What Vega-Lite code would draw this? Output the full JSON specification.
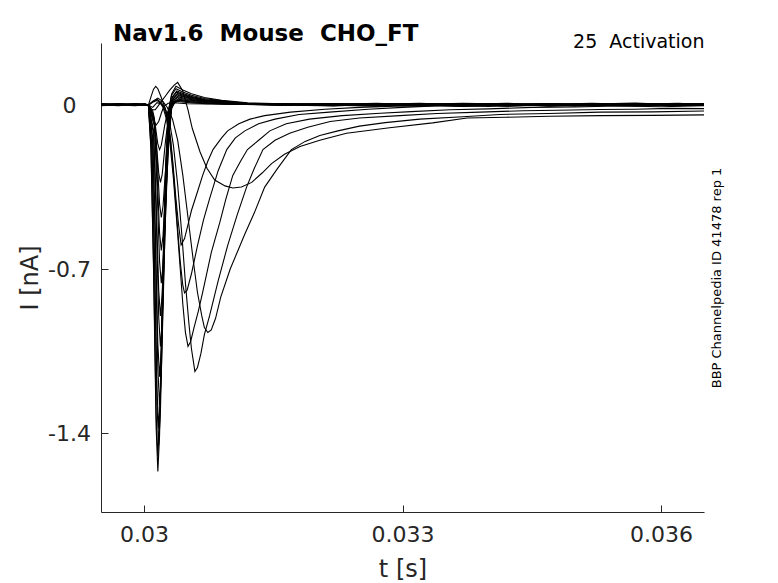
{
  "$schema": "https://vega.github.io/schema/vega-lite/v6.json",
  "width": 603,
  "height": 469,
  "autosize": "none",
  "padding": {"left": 101, "top": 43, "right": 74, "bottom": 71},
  "title": {
    "text": "Nav1.6\u00a0 Mouse\u00a0 CHO_FT",
    "anchor": "start",
    "frame": "group",
    "font": "DejaVu Sans",
    "fontSize": 23,
    "fontWeight": "bold",
    "color": "#000",
    "baseline": "alphabetic",
    "offset": 0,
    "dx": 12,
    "dy": 32
  },
  "data": {
    "values": [
      {"s":"f1","t":0.0295,"i":0.003},{"s":"f1","t":0.0297,"i":-0.002},{"s":"f1","t":0.0299,"i":0.004},{"s":"f1","t":0.03001,"i":0.001},{"s":"f1","t":0.03005,"i":0},{"s":"f1","t":0.03008,"i":-0.188},{"s":"f1","t":0.03011,"i":-0.704},{"s":"f1","t":0.03014,"i":-1.376},{"s":"f1","t":0.03016,"i":-1.564},{"s":"f1","t":0.03018,"i":-1.408},{"s":"f1","t":0.0302,"i":-1.064},{"s":"f1","t":0.03022,"i":-0.704},{"s":"f1","t":0.03025,"i":-0.282},{"s":"f1","t":0.03028,"i":-0.031},{"s":"f1","t":0.03032,"i":0.048},{"s":"f1","t":0.03037,"i":0.08},{"s":"f1","t":0.03045,"i":0.064},{"s":"f1","t":0.03055,"i":0.048},{"s":"f1","t":0.0307,"i":0.032},{"s":"f1","t":0.0309,"i":0.02},{"s":"f1","t":0.0312,"i":0.01},{"s":"f1","t":0.0316,"i":0.005},{"s":"f1","t":0.0322,"i":0.002},{"s":"f1","t":0.0327,"i":-0.004},{"s":"f1","t":0.0332,"i":0.006},{"s":"f1","t":0.0337,"i":-0.002},{"s":"f1","t":0.0342,"i":0.004},{"s":"f1","t":0.0347,"i":-0.005},{"s":"f1","t":0.0352,"i":0.003},{"s":"f1","t":0.0357,"i":0.007},{"s":"f1","t":0.0362,"i":-0.001},{"s":"f1","t":0.0365,"i":0.003},
      {"s":"f2","t":0.0295,"i":-0.001},{"s":"f2","t":0.0297,"i":0.004},{"s":"f2","t":0.0299,"i":0},{"s":"f2","t":0.03001,"i":0.003},{"s":"f2","t":0.03005,"i":0},{"s":"f2","t":0.03008,"i":-0.18},{"s":"f2","t":0.03011,"i":-0.675},{"s":"f2","t":0.03014,"i":-1.32},{"s":"f2","t":0.03016,"i":-1.5},{"s":"f2","t":0.03018,"i":-1.35},{"s":"f2","t":0.0302,"i":-1.02},{"s":"f2","t":0.03022,"i":-0.675},{"s":"f2","t":0.03025,"i":-0.27},{"s":"f2","t":0.03028,"i":-0.03},{"s":"f2","t":0.03032,"i":0.042},{"s":"f2","t":0.03037,"i":0.07},{"s":"f2","t":0.03045,"i":0.056},{"s":"f2","t":0.03055,"i":0.042},{"s":"f2","t":0.0307,"i":0.028},{"s":"f2","t":0.0309,"i":0.018},{"s":"f2","t":0.0312,"i":0.008},{"s":"f2","t":0.0316,"i":0.003},{"s":"f2","t":0.0322,"i":-0.003},{"s":"f2","t":0.0327,"i":0.005},{"s":"f2","t":0.0332,"i":-0.001},{"s":"f2","t":0.0337,"i":0.007},{"s":"f2","t":0.0342,"i":-0.004},{"s":"f2","t":0.0347,"i":0.002},{"s":"f2","t":0.0352,"i":0.006},{"s":"f2","t":0.0357,"i":-0.003},{"s":"f2","t":0.0362,"i":0.004},{"s":"f2","t":0.0365,"i":0.001},
      {"s":"f3","t":0.0295,"i":0.004},{"s":"f3","t":0.0297,"i":0.001},{"s":"f3","t":0.0299,"i":-0.003},{"s":"f3","t":0.03001,"i":0.002},{"s":"f3","t":0.03005,"i":0},{"s":"f3","t":0.03009,"i":-0.174},{"s":"f3","t":0.03012,"i":-0.653},{"s":"f3","t":0.03015,"i":-1.276},{"s":"f3","t":0.03017,"i":-1.45},{"s":"f3","t":0.03019,"i":-1.305},{"s":"f3","t":0.03021,"i":-0.986},{"s":"f3","t":0.03023,"i":-0.653},{"s":"f3","t":0.03026,"i":-0.261},{"s":"f3","t":0.03029,"i":-0.029},{"s":"f3","t":0.03033,"i":0.036},{"s":"f3","t":0.03038,"i":0.06},{"s":"f3","t":0.03046,"i":0.048},{"s":"f3","t":0.03056,"i":0.036},{"s":"f3","t":0.03071,"i":0.024},{"s":"f3","t":0.03091,"i":0.015},{"s":"f3","t":0.03121,"i":0.007},{"s":"f3","t":0.0316,"i":0.006},{"s":"f3","t":0.0322,"i":0.001},{"s":"f3","t":0.0327,"i":0.007},{"s":"f3","t":0.0332,"i":-0.003},{"s":"f3","t":0.0337,"i":0.002},{"s":"f3","t":0.0342,"i":0.008},{"s":"f3","t":0.0347,"i":0},{"s":"f3","t":0.0352,"i":-0.004},{"s":"f3","t":0.0357,"i":0.005},{"s":"f3","t":0.0362,"i":0.002},{"s":"f3","t":0.0365,"i":0.006},
      {"s":"f4","t":0.0295,"i":0},{"s":"f4","t":0.0297,"i":0.005},{"s":"f4","t":0.0299,"i":0.002},{"s":"f4","t":0.03001,"i":-0.002},{"s":"f4","t":0.03005,"i":0},{"s":"f4","t":0.03009,"i":-0.166},{"s":"f4","t":0.03012,"i":-0.621},{"s":"f4","t":0.03015,"i":-1.214},{"s":"f4","t":0.03017,"i":-1.38},{"s":"f4","t":0.03019,"i":-1.242},{"s":"f4","t":0.03021,"i":-0.938},{"s":"f4","t":0.03023,"i":-0.621},{"s":"f4","t":0.03026,"i":-0.248},{"s":"f4","t":0.03029,"i":-0.028},{"s":"f4","t":0.03033,"i":0.033},{"s":"f4","t":0.03038,"i":0.055},{"s":"f4","t":0.03046,"i":0.044},{"s":"f4","t":0.03056,"i":0.033},{"s":"f4","t":0.03071,"i":0.022},{"s":"f4","t":0.03091,"i":0.014},{"s":"f4","t":0.03121,"i":0.007},{"s":"f4","t":0.0316,"i":0.002},{"s":"f4","t":0.0322,"i":0.006},{"s":"f4","t":0.0327,"i":-0.002},{"s":"f4","t":0.0332,"i":0.004},{"s":"f4","t":0.0337,"i":-0.005},{"s":"f4","t":0.0342,"i":0.001},{"s":"f4","t":0.0347,"i":0.006},{"s":"f4","t":0.0352,"i":-0.002},{"s":"f4","t":0.0357,"i":0.003},{"s":"f4","t":0.0362,"i":0.008},{"s":"f4","t":0.0365,"i":0.002},
      {"s":"f5","t":0.0295,"i":0.002},{"s":"f5","t":0.0297,"i":-0.003},{"s":"f5","t":0.0299,"i":0.003},{"s":"f5","t":0.03001,"i":0.004},{"s":"f5","t":0.03005,"i":0},{"s":"f5","t":0.0301,"i":-0.154},{"s":"f5","t":0.03013,"i":-0.576},{"s":"f5","t":0.03016,"i":-1.126},{"s":"f5","t":0.03018,"i":-1.28},{"s":"f5","t":0.0302,"i":-1.152},{"s":"f5","t":0.03022,"i":-0.87},{"s":"f5","t":0.03024,"i":-0.576},{"s":"f5","t":0.03027,"i":-0.23},{"s":"f5","t":0.0303,"i":-0.026},{"s":"f5","t":0.03034,"i":0.03},{"s":"f5","t":0.03039,"i":0.05},{"s":"f5","t":0.03047,"i":0.04},{"s":"f5","t":0.03057,"i":0.03},{"s":"f5","t":0.03072,"i":0.02},{"s":"f5","t":0.03092,"i":0.013},{"s":"f5","t":0.03122,"i":0.006},{"s":"f5","t":0.0316,"i":0.004},{"s":"f5","t":0.0322,"i":-0.001},{"s":"f5","t":0.0327,"i":0.003},{"s":"f5","t":0.0332,"i":0.008},{"s":"f5","t":0.0337,"i":0.001},{"s":"f5","t":0.0342,"i":-0.003},{"s":"f5","t":0.0347,"i":0.004},{"s":"f5","t":0.0352,"i":0.001},{"s":"f5","t":0.0357,"i":-0.004},{"s":"f5","t":0.0362,"i":0.003},{"s":"f5","t":0.0365,"i":-0.002},
      {"s":"f6","t":0.0295,"i":0.005},{"s":"f6","t":0.0297,"i":0.002},{"s":"f6","t":0.0299,"i":-0.001},{"s":"f6","t":0.03001,"i":0},{"s":"f6","t":0.03005,"i":0},{"s":"f6","t":0.0301,"i":-0.139},{"s":"f6","t":0.03013,"i":-0.522},{"s":"f6","t":0.03016,"i":-1.021},{"s":"f6","t":0.03018,"i":-1.16},{"s":"f6","t":0.0302,"i":-1.044},{"s":"f6","t":0.03022,"i":-0.789},{"s":"f6","t":0.03024,"i":-0.522},{"s":"f6","t":0.03027,"i":-0.209},{"s":"f6","t":0.0303,"i":-0.023},{"s":"f6","t":0.03034,"i":0.027},{"s":"f6","t":0.03039,"i":0.045},{"s":"f6","t":0.03047,"i":0.036},{"s":"f6","t":0.03057,"i":0.027},{"s":"f6","t":0.03072,"i":0.018},{"s":"f6","t":0.03092,"i":0.011},{"s":"f6","t":0.03122,"i":0.005},{"s":"f6","t":0.0316,"i":0.003},{"s":"f6","t":0.0322,"i":0.005},{"s":"f6","t":0.0327,"i":0},{"s":"f6","t":0.0332,"i":-0.004},{"s":"f6","t":0.0337,"i":0.004},{"s":"f6","t":0.0342,"i":0.007},{"s":"f6","t":0.0347,"i":-0.002},{"s":"f6","t":0.0352,"i":0.005},{"s":"f6","t":0.0357,"i":0.001},{"s":"f6","t":0.0362,"i":-0.003},{"s":"f6","t":0.0365,"i":0.004},
      {"s":"f7","t":0.0295,"i":-0.002},{"s":"f7","t":0.0297,"i":0.003},{"s":"f7","t":0.0299,"i":0.005},{"s":"f7","t":0.03001,"i":0.002},{"s":"f7","t":0.03005,"i":0},{"s":"f7","t":0.03011,"i":-0.124},{"s":"f7","t":0.03014,"i":-0.464},{"s":"f7","t":0.03017,"i":-0.906},{"s":"f7","t":0.03019,"i":-1.03},{"s":"f7","t":0.03021,"i":-0.927},{"s":"f7","t":0.03023,"i":-0.7},{"s":"f7","t":0.03025,"i":-0.464},{"s":"f7","t":0.03028,"i":-0.185},{"s":"f7","t":0.03031,"i":-0.021},{"s":"f7","t":0.03035,"i":0.024},{"s":"f7","t":0.0304,"i":0.04},{"s":"f7","t":0.03048,"i":0.032},{"s":"f7","t":0.03058,"i":0.024},{"s":"f7","t":0.03073,"i":0.016},{"s":"f7","t":0.03093,"i":0.01},{"s":"f7","t":0.03123,"i":0.005},{"s":"f7","t":0.0316,"i":0.001},{"s":"f7","t":0.0322,"i":-0.004},{"s":"f7","t":0.0327,"i":0.004},{"s":"f7","t":0.0332,"i":0.002},{"s":"f7","t":0.0337,"i":0.006},{"s":"f7","t":0.0342,"i":-0.001},{"s":"f7","t":0.0347,"i":0.003},{"s":"f7","t":0.0352,"i":0.008},{"s":"f7","t":0.0357,"i":0.002},{"s":"f7","t":0.0362,"i":0.005},{"s":"f7","t":0.0365,"i":0},
      {"s":"f8","t":0.0295,"i":0.001},{"s":"f8","t":0.0297,"i":0},{"s":"f8","t":0.0299,"i":0.002},{"s":"f8","t":0.03001,"i":0.005},{"s":"f8","t":0.03005,"i":0},{"s":"f8","t":0.03011,"i":-0.108},{"s":"f8","t":0.03014,"i":-0.405},{"s":"f8","t":0.03017,"i":-0.792},{"s":"f8","t":0.03019,"i":-0.9},{"s":"f8","t":0.03021,"i":-0.81},{"s":"f8","t":0.03023,"i":-0.612},{"s":"f8","t":0.03025,"i":-0.405},{"s":"f8","t":0.03028,"i":-0.162},{"s":"f8","t":0.03031,"i":-0.018},{"s":"f8","t":0.03035,"i":0.021},{"s":"f8","t":0.0304,"i":0.035},{"s":"f8","t":0.03048,"i":0.028},{"s":"f8","t":0.03058,"i":0.021},{"s":"f8","t":0.03073,"i":0.014},{"s":"f8","t":0.03093,"i":0.009},{"s":"f8","t":0.03123,"i":0.004},{"s":"f8","t":0.0316,"i":0.004},{"s":"f8","t":0.0322,"i":0.002},{"s":"f8","t":0.0327,"i":0.006},{"s":"f8","t":0.0332,"i":-0.002},{"s":"f8","t":0.0337,"i":-0.006},{"s":"f8","t":0.0342,"i":0.003},{"s":"f8","t":0.0347,"i":0.007},{"s":"f8","t":0.0352,"i":0},{"s":"f8","t":0.0357,"i":0.004},{"s":"f8","t":0.0362,"i":-0.002},{"s":"f8","t":0.0365,"i":0.005},
      {"s":"f9","t":0.0295,"i":0.004},{"s":"f9","t":0.0297,"i":0.002},{"s":"f9","t":0.0299,"i":-0.002},{"s":"f9","t":0.03001,"i":0.001},{"s":"f9","t":0.03005,"i":0},{"s":"f9","t":0.03012,"i":-0.091},{"s":"f9","t":0.03015,"i":-0.342},{"s":"f9","t":0.03018,"i":-0.669},{"s":"f9","t":0.0302,"i":-0.76},{"s":"f9","t":0.03022,"i":-0.684},{"s":"f9","t":0.03024,"i":-0.517},{"s":"f9","t":0.03026,"i":-0.342},{"s":"f9","t":0.03029,"i":-0.137},{"s":"f9","t":0.03032,"i":-0.015},{"s":"f9","t":0.03036,"i":0.018},{"s":"f9","t":0.03041,"i":0.03},{"s":"f9","t":0.03049,"i":0.024},{"s":"f9","t":0.03059,"i":0.018},{"s":"f9","t":0.03074,"i":0.012},{"s":"f9","t":0.03094,"i":0.008},{"s":"f9","t":0.03124,"i":0.004},{"s":"f9","t":0.0316,"i":0},{"s":"f9","t":0.0322,"i":0.004},{"s":"f9","t":0.0327,"i":-0.003},{"s":"f9","t":0.0332,"i":0.005},{"s":"f9","t":0.0337,"i":0.003},{"s":"f9","t":0.0342,"i":-0.005},{"s":"f9","t":0.0347,"i":0.001},{"s":"f9","t":0.0352,"i":0.004},{"s":"f9","t":0.0357,"i":0.009},{"s":"f9","t":0.0362,"i":0.001},{"s":"f9","t":0.0365,"i":-0.002},
      {"s":"f10","t":0.0295,"i":0},{"s":"f10","t":0.0297,"i":-0.002},{"s":"f10","t":0.0299,"i":0.004},{"s":"f10","t":0.03001,"i":0.003},{"s":"f10","t":0.03005,"i":0},{"s":"f10","t":0.03012,"i":-0.074},{"s":"f10","t":0.03015,"i":-0.279},{"s":"f10","t":0.03018,"i":-0.546},{"s":"f10","t":0.0302,"i":-0.62},{"s":"f10","t":0.03022,"i":-0.558},{"s":"f10","t":0.03024,"i":-0.422},{"s":"f10","t":0.03026,"i":-0.279},{"s":"f10","t":0.03029,"i":-0.112},{"s":"f10","t":0.03032,"i":-0.012},{"s":"f10","t":0.03036,"i":0.015},{"s":"f10","t":0.03041,"i":0.025},{"s":"f10","t":0.03049,"i":0.02},{"s":"f10","t":0.03059,"i":0.015},{"s":"f10","t":0.03074,"i":0.01},{"s":"f10","t":0.03094,"i":0.006},{"s":"f10","t":0.03124,"i":0.003},{"s":"f10","t":0.0316,"i":0.003},{"s":"f10","t":0.0322,"i":-0.002},{"s":"f10","t":0.0327,"i":0.002},{"s":"f10","t":0.0332,"i":0.006},{"s":"f10","t":0.0337,"i":-0.001},{"s":"f10","t":0.0342,"i":0.005},{"s":"f10","t":0.0347,"i":-0.004},{"s":"f10","t":0.0352,"i":-0.001},{"s":"f10","t":0.0357,"i":0.006},{"s":"f10","t":0.0362,"i":0.007},{"s":"f10","t":0.0365,"i":0.003},
      {"s":"f11","t":0.0295,"i":0.003},{"s":"f11","t":0.0297,"i":0.005},{"s":"f11","t":0.0299,"i":0.001},{"s":"f11","t":0.03001,"i":-0.001},{"s":"f11","t":0.03005,"i":0},{"s":"f11","t":0.03012,"i":-0.058},{"s":"f11","t":0.03015,"i":-0.216},{"s":"f11","t":0.03018,"i":-0.422},{"s":"f11","t":0.0302,"i":-0.48},{"s":"f11","t":0.03022,"i":-0.432},{"s":"f11","t":0.03024,"i":-0.326},{"s":"f11","t":0.03026,"i":-0.216},{"s":"f11","t":0.03029,"i":-0.086},{"s":"f11","t":0.03032,"i":-0.01},{"s":"f11","t":0.03036,"i":0.012},{"s":"f11","t":0.03041,"i":0.02},{"s":"f11","t":0.03049,"i":0.016},{"s":"f11","t":0.03059,"i":0.012},{"s":"f11","t":0.03074,"i":0.008},{"s":"f11","t":0.03094,"i":0.005},{"s":"f11","t":0.0316,"i":-0.002},{"s":"f11","t":0.0322,"i":0.003},{"s":"f11","t":0.0327,"i":0.008},{"s":"f11","t":0.0332,"i":0.001},{"s":"f11","t":0.0337,"i":0.004},{"s":"f11","t":0.0342,"i":0},{"s":"f11","t":0.0347,"i":0.005},{"s":"f11","t":0.0352,"i":-0.003},{"s":"f11","t":0.0357,"i":0.002},{"s":"f11","t":0.0362,"i":0.004},{"s":"f11","t":0.0365,"i":0.007},
      {"s":"f12","t":0.0295,"i":-0.003},{"s":"f12","t":0.0297,"i":0.001},{"s":"f12","t":0.0299,"i":0.003},{"s":"f12","t":0.03001,"i":0.002},{"s":"f12","t":0.03005,"i":0},{"s":"f12","t":0.03011,"i":-0.04},{"s":"f12","t":0.03014,"i":-0.149},{"s":"f12","t":0.03017,"i":-0.29},{"s":"f12","t":0.03019,"i":-0.33},{"s":"f12","t":0.03021,"i":-0.297},{"s":"f12","t":0.03023,"i":-0.224},{"s":"f12","t":0.03025,"i":-0.149},{"s":"f12","t":0.03028,"i":-0.059},{"s":"f12","t":0.03031,"i":-0.007},{"s":"f12","t":0.03035,"i":0.012},{"s":"f12","t":0.0304,"i":0.02},{"s":"f12","t":0.03048,"i":0.016},{"s":"f12","t":0.03058,"i":0.012},{"s":"f12","t":0.03073,"i":0.008},{"s":"f12","t":0.03093,"i":0.005},{"s":"f12","t":0.0316,"i":0.002},{"s":"f12","t":0.0322,"i":0.007},{"s":"f12","t":0.0327,"i":0.001},{"s":"f12","t":0.0332,"i":-0.005},{"s":"f12","t":0.0337,"i":0.005},{"s":"f12","t":0.0342,"i":0.002},{"s":"f12","t":0.0347,"i":-0.001},{"s":"f12","t":0.0352,"i":0.006},{"s":"f12","t":0.0357,"i":-0.002},{"s":"f12","t":0.0362,"i":0.001},{"s":"f12","t":0.0365,"i":0.004},
      {"s":"f13","t":0.0295,"i":0.002},{"s":"f13","t":0.0297,"i":0.004},{"s":"f13","t":0.0299,"i":0},{"s":"f13","t":0.03001,"i":0.004},{"s":"f13","t":0.03005,"i":0},{"s":"f13","t":0.0301,"i":-0.023},{"s":"f13","t":0.03013,"i":-0.086},{"s":"f13","t":0.03016,"i":-0.167},{"s":"f13","t":0.03018,"i":-0.19},{"s":"f13","t":0.0302,"i":-0.171},{"s":"f13","t":0.03022,"i":-0.129},{"s":"f13","t":0.03024,"i":-0.086},{"s":"f13","t":0.03027,"i":-0.034},{"s":"f13","t":0.0303,"i":-0.004},{"s":"f13","t":0.03034,"i":0.009},{"s":"f13","t":0.03039,"i":0.015},{"s":"f13","t":0.03047,"i":0.012},{"s":"f13","t":0.03057,"i":0.009},{"s":"f13","t":0.03072,"i":0.006},{"s":"f13","t":0.0316,"i":0.005},{"s":"f13","t":0.0322,"i":0},{"s":"f13","t":0.0327,"i":-0.005},{"s":"f13","t":0.0332,"i":0.003},{"s":"f13","t":0.0337,"i":0.008},{"s":"f13","t":0.0342,"i":0.004},{"s":"f13","t":0.0347,"i":0.002},{"s":"f13","t":0.0352,"i":-0.002},{"s":"f13","t":0.0357,"i":0.005},{"s":"f13","t":0.0362,"i":0.006},{"s":"f13","t":0.0365,"i":0.001},
      {"s":"f14","t":0.0295,"i":0.001},{"s":"f14","t":0.0297,"i":-0.001},{"s":"f14","t":0.0299,"i":0.005},{"s":"f14","t":0.03001,"i":0},{"s":"f14","t":0.03005,"i":0},{"s":"f14","t":0.03008,"i":-0.025},{"s":"f14","t":0.03011,"i":-0.065},{"s":"f14","t":0.03014,"i":-0.085},{"s":"f14","t":0.03017,"i":-0.07},{"s":"f14","t":0.0302,"i":-0.035},{"s":"f14","t":0.03023,"i":-0.005},{"s":"f14","t":0.03028,"i":0.008},{"s":"f14","t":0.03035,"i":0.01},{"s":"f14","t":0.0305,"i":0.006},{"s":"f14","t":0.0316,"i":0.001},{"s":"f14","t":0.0322,"i":0.004},{"s":"f14","t":0.0327,"i":0.002},{"s":"f14","t":0.0332,"i":0.007},{"s":"f14","t":0.0337,"i":0},{"s":"f14","t":0.0342,"i":-0.002},{"s":"f14","t":0.0347,"i":0.005},{"s":"f14","t":0.0352,"i":0.002},{"s":"f14","t":0.0357,"i":-0.001},{"s":"f14","t":0.0362,"i":0.003},{"s":"f14","t":0.0365,"i":0.005},
      {"s":"A","t":0.0295,"i":0.002},{"s":"A","t":0.0297,"i":0.003},{"s":"A","t":0.0299,"i":-0.002},{"s":"A","t":0.03001,"i":0.001},{"s":"A","t":0.03005,"i":0},{"s":"A","t":0.03008,"i":0.035},{"s":"A","t":0.03011,"i":0.068},{"s":"A","t":0.030135,"i":0.08},{"s":"A","t":0.03016,"i":0.07},{"s":"A","t":0.03019,"i":0.042},{"s":"A","t":0.03022,"i":0.012},{"s":"A","t":0.03025,"i":-0.02},{"s":"A","t":0.03028,"i":-0.07},{"s":"A","t":0.03031,"i":-0.15},{"s":"A","t":0.03034,"i":-0.27},{"s":"A","t":0.03037,"i":-0.4},{"s":"A","t":0.0304,"i":-0.51},{"s":"A","t":0.03043,"i":-0.597},{"s":"A","t":0.03047,"i":-0.57},{"s":"A","t":0.03051,"i":-0.51},{"s":"A","t":0.03055,"i":-0.45},{"s":"A","t":0.03062,"i":-0.37},{"s":"A","t":0.03068,"i":-0.3},{"s":"A","t":0.03074,"i":-0.24},{"s":"A","t":0.0308,"i":-0.19},{"s":"A","t":0.0309,"i":-0.14},{"s":"A","t":0.03097,"i":-0.11},{"s":"A","t":0.0311,"i":-0.08},{"s":"A","t":0.03123,"i":-0.06},{"s":"A","t":0.0314,"i":-0.045},{"s":"A","t":0.0317,"i":-0.03},{"s":"A","t":0.0321,"i":-0.018},{"s":"A","t":0.0325,"i":-0.01},{"s":"A","t":0.033,"i":-0.004},{"s":"A","t":0.0335,"i":0.003},{"s":"A","t":0.034,"i":-0.002},{"s":"A","t":0.0345,"i":0.004},{"s":"A","t":0.035,"i":-0.003},{"s":"A","t":0.0355,"i":0.002},{"s":"A","t":0.036,"i":0.005},{"s":"A","t":0.0365,"i":0},
      {"s":"B","t":0.0295,"i":0.004},{"s":"B","t":0.0297,"i":-0.001},{"s":"B","t":0.0299,"i":0.002},{"s":"B","t":0.03001,"i":0.003},{"s":"B","t":0.03005,"i":0},{"s":"B","t":0.0301,"i":-0.01},{"s":"B","t":0.03015,"i":0.01},{"s":"B","t":0.0302,"i":0.005},{"s":"B","t":0.03023,"i":-0.01},{"s":"B","t":0.03027,"i":-0.06},{"s":"B","t":0.0303,"i":-0.13},{"s":"B","t":0.03033,"i":-0.24},{"s":"B","t":0.03036,"i":-0.38},{"s":"B","t":0.03039,"i":-0.53},{"s":"B","t":0.03042,"i":-0.67},{"s":"B","t":0.03045,"i":-0.77},{"s":"B","t":0.03047,"i":-0.802},{"s":"B","t":0.0305,"i":-0.79},{"s":"B","t":0.03055,"i":-0.72},{"s":"B","t":0.03062,"i":-0.6},{"s":"B","t":0.03069,"i":-0.49},{"s":"B","t":0.03076,"i":-0.4},{"s":"B","t":0.03086,"i":-0.28},{"s":"B","t":0.03096,"i":-0.19},{"s":"B","t":0.03106,"i":-0.14},{"s":"B","t":0.03117,"i":-0.11},{"s":"B","t":0.03133,"i":-0.08},{"s":"B","t":0.03152,"i":-0.06},{"s":"B","t":0.0318,"i":-0.04},{"s":"B","t":0.03215,"i":-0.03},{"s":"B","t":0.0326,"i":-0.018},{"s":"B","t":0.033,"i":-0.01},{"s":"B","t":0.0335,"i":-0.002},{"s":"B","t":0.034,"i":-0.006},{"s":"B","t":0.0345,"i":0.002},{"s":"B","t":0.035,"i":-0.004},{"s":"B","t":0.0355,"i":0.003},{"s":"B","t":0.036,"i":-0.002},{"s":"B","t":0.0365,"i":0.002},
      {"s":"C","t":0.0295,"i":-0.001},{"s":"C","t":0.0297,"i":0.002},{"s":"C","t":0.0299,"i":0.004},{"s":"C","t":0.03001,"i":0},{"s":"C","t":0.03005,"i":0},{"s":"C","t":0.0301,"i":0.012},{"s":"C","t":0.03015,"i":0.02},{"s":"C","t":0.03019,"i":0.008},{"s":"C","t":0.03022,"i":-0.01},{"s":"C","t":0.03026,"i":-0.06},{"s":"C","t":0.0303,"i":-0.16},{"s":"C","t":0.03034,"i":-0.31},{"s":"C","t":0.03038,"i":-0.5},{"s":"C","t":0.03042,"i":-0.7},{"s":"C","t":0.03045,"i":-0.85},{"s":"C","t":0.03048,"i":-0.97},{"s":"C","t":0.03051,"i":-1.03},{"s":"C","t":0.03054,"i":-1.01},{"s":"C","t":0.03058,"i":-0.95},{"s":"C","t":0.03063,"i":-0.88},{"s":"C","t":0.03068,"i":-0.8},{"s":"C","t":0.03078,"i":-0.63},{"s":"C","t":0.03088,"i":-0.5},{"s":"C","t":0.03095,"i":-0.4},{"s":"C","t":0.03103,"i":-0.3},{"s":"C","t":0.03112,"i":-0.24},{"s":"C","t":0.0312,"i":-0.19},{"s":"C","t":0.03133,"i":-0.15},{"s":"C","t":0.03146,"i":-0.11},{"s":"C","t":0.03165,"i":-0.08},{"s":"C","t":0.03192,"i":-0.06},{"s":"C","t":0.0323,"i":-0.045},{"s":"C","t":0.03274,"i":-0.035},{"s":"C","t":0.0331,"i":-0.028},{"s":"C","t":0.03355,"i":-0.02},{"s":"C","t":0.034,"i":-0.016},{"s":"C","t":0.0345,"i":-0.01},{"s":"C","t":0.035,"i":-0.008},{"s":"C","t":0.0355,"i":-0.004},{"s":"C","t":0.036,"i":-0.007},{"s":"C","t":0.0365,"i":-0.003},
      {"s":"D","t":0.0295,"i":0.003},{"s":"D","t":0.0297,"i":0},{"s":"D","t":0.0299,"i":0.001},{"s":"D","t":0.03001,"i":0.004},{"s":"D","t":0.03005,"i":0},{"s":"D","t":0.0301,"i":0.015},{"s":"D","t":0.03015,"i":0.025},{"s":"D","t":0.0302,"i":0.01},{"s":"D","t":0.03024,"i":-0.01},{"s":"D","t":0.03029,"i":-0.06},{"s":"D","t":0.03034,"i":-0.17},{"s":"D","t":0.03039,"i":-0.34},{"s":"D","t":0.03044,"i":-0.56},{"s":"D","t":0.03048,"i":-0.76},{"s":"D","t":0.03052,"i":-0.93},{"s":"D","t":0.03055,"i":-1.04},{"s":"D","t":0.03059,"i":-1.137},{"s":"D","t":0.03062,"i":-1.12},{"s":"D","t":0.03066,"i":-1.06},{"s":"D","t":0.0307,"i":-0.98},{"s":"D","t":0.03076,"i":-0.9},{"s":"D","t":0.03086,"i":-0.75},{"s":"D","t":0.03097,"i":-0.6},{"s":"D","t":0.03108,"i":-0.47},{"s":"D","t":0.03119,"i":-0.35},{"s":"D","t":0.03128,"i":-0.27},{"s":"D","t":0.03138,"i":-0.19},{"s":"D","t":0.03152,"i":-0.15},{"s":"D","t":0.03169,"i":-0.12},{"s":"D","t":0.0319,"i":-0.095},{"s":"D","t":0.03216,"i":-0.07},{"s":"D","t":0.0325,"i":-0.055},{"s":"D","t":0.03297,"i":-0.045},{"s":"D","t":0.0334,"i":-0.036},{"s":"D","t":0.0339,"i":-0.03},{"s":"D","t":0.0344,"i":-0.024},{"s":"D","t":0.0348,"i":-0.022},{"s":"D","t":0.0353,"i":-0.019},{"s":"D","t":0.0357,"i":-0.018},{"s":"D","t":0.0361,"i":-0.014},{"s":"D","t":0.0365,"i":-0.015},
      {"s":"E","t":0.0295,"i":0},{"s":"E","t":0.0297,"i":0.004},{"s":"E","t":0.0299,"i":0.003},{"s":"E","t":0.03001,"i":-0.002},{"s":"E","t":0.03005,"i":0},{"s":"E","t":0.0301,"i":0.015},{"s":"E","t":0.03016,"i":0.03},{"s":"E","t":0.03022,"i":0.015},{"s":"E","t":0.03027,"i":-0.01},{"s":"E","t":0.03033,"i":-0.06},{"s":"E","t":0.03039,"i":-0.15},{"s":"E","t":0.03045,"i":-0.3},{"s":"E","t":0.03051,"i":-0.48},{"s":"E","t":0.03057,"i":-0.66},{"s":"E","t":0.03062,"i":-0.8},{"s":"E","t":0.03067,"i":-0.9},{"s":"E","t":0.0307,"i":-0.95},{"s":"E","t":0.03074,"i":-0.971},{"s":"E","t":0.03078,"i":-0.96},{"s":"E","t":0.03083,"i":-0.91},{"s":"E","t":0.03089,"i":-0.82},{"s":"E","t":0.031,"i":-0.7},{"s":"E","t":0.03117,"i":-0.55},{"s":"E","t":0.03128,"i":-0.46},{"s":"E","t":0.0314,"i":-0.35},{"s":"E","t":0.03155,"i":-0.27},{"s":"E","t":0.03171,"i":-0.19},{"s":"E","t":0.03187,"i":-0.155},{"s":"E","t":0.03204,"i":-0.13},{"s":"E","t":0.03225,"i":-0.11},{"s":"E","t":0.0325,"i":-0.09},{"s":"E","t":0.0328,"i":-0.075},{"s":"E","t":0.0332,"i":-0.06},{"s":"E","t":0.0337,"i":-0.05},{"s":"E","t":0.03413,"i":-0.04},{"s":"E","t":0.0347,"i":-0.036},{"s":"E","t":0.03529,"i":-0.03},{"s":"E","t":0.0359,"i":-0.029},{"s":"E","t":0.0365,"i":-0.025},
      {"s":"F","t":0.0295,"i":0.005},{"s":"F","t":0.0297,"i":0.001},{"s":"F","t":0.0299,"i":-0.001},{"s":"F","t":0.03001,"i":0.002},{"s":"F","t":0.03005,"i":0},{"s":"F","t":0.03009,"i":-0.02},{"s":"F","t":0.03013,"i":-0.02},{"s":"F","t":0.03017,"i":0},{"s":"F","t":0.03021,"i":0.02},{"s":"F","t":0.03025,"i":0.04},{"s":"F","t":0.0303,"i":0.065},{"s":"F","t":0.03035,"i":0.085},{"s":"F","t":0.03039,"i":0.097},{"s":"F","t":0.03045,"i":0.06},{"s":"F","t":0.03051,"i":-0.02},{"s":"F","t":0.03056,"i":-0.1},{"s":"F","t":0.03065,"i":-0.2},{"s":"F","t":0.03073,"i":-0.27},{"s":"F","t":0.03082,"i":-0.32},{"s":"F","t":0.03094,"i":-0.345},{"s":"F","t":0.03103,"i":-0.354},{"s":"F","t":0.03113,"i":-0.35},{"s":"F","t":0.03125,"i":-0.33},{"s":"F","t":0.03137,"i":-0.29},{"s":"F","t":0.03148,"i":-0.25},{"s":"F","t":0.03163,"i":-0.21},{"s":"F","t":0.03181,"i":-0.177},{"s":"F","t":0.03204,"i":-0.15},{"s":"F","t":0.03235,"i":-0.12},{"s":"F","t":0.03285,"i":-0.097},{"s":"F","t":0.03335,"i":-0.076},{"s":"F","t":0.03375,"i":-0.055},{"s":"F","t":0.0342,"i":-0.052},{"s":"F","t":0.0347,"i":-0.048},{"s":"F","t":0.0353,"i":-0.045},{"s":"F","t":0.0359,"i":-0.044},{"s":"F","t":0.0365,"i":-0.042}
    ]
  },
  "layer": [
    {
      "mark": {"type": "line", "color": "#000", "strokeWidth": 1.1},
      "encoding": {
        "x": {
          "field": "t",
          "type": "quantitative",
          "scale": {"domain": [0.0295, 0.0365], "nice": false, "zero": false},
          "axis": {
            "orient": "bottom",
            "title": "t [s]",
            "values": [0.03, 0.033, 0.036],
            "format": "~g",
            "grid": false,
            "tickSize": -7,
            "tickColor": "#262626",
            "domainColor": "#262626",
            "labelFont": "DejaVu Sans",
            "labelFontSize": 22,
            "labelColor": "#262626",
            "labelPadding": 19,
            "labelFlush": false,
            "titleFont": "DejaVu Sans",
            "titleFontSize": 24,
            "titleFontWeight": "normal",
            "titleColor": "#262626",
            "titleBaseline": "alphabetic",
            "titleY": 64
          }
        },
        "y": {
          "field": "i",
          "type": "quantitative",
          "scale": {"domain": [-1.737, 0.265], "nice": false, "zero": false},
          "axis": {
            "orient": "left",
            "title": "I [nA]",
            "values": [-1.4, -0.7, 0],
            "format": "~g",
            "labelExpr": "replace(datum.label, '\u2212', '-')",
            "grid": false,
            "tickSize": -7,
            "tickColor": "#262626",
            "domainColor": "#262626",
            "labelFont": "DejaVu Sans",
            "labelFontSize": 22,
            "labelColor": "#262626",
            "labelAlign": "center",
            "labelPadding": 39,
            "titleFont": "DejaVu Sans",
            "titleFontSize": 24,
            "titleFontWeight": "normal",
            "titleColor": "#262626",
            "titleAngle": 270,
            "titleBaseline": "middle",
            "titleX": -71
          }
        },
        "detail": {"field": "s", "type": "nominal"}
      }
    },
    {
      "transform": [{"filter": "datum.s == 'A'"}],
      "mark": {"type": "line", "opacity": 0},
      "encoding": {
        "x": {
          "field": "t",
          "type": "quantitative",
          "scale": {"domain": [0.0295, 0.0365], "nice": false, "zero": false},
          "axis": {
            "orient": "top",
            "title": "25\u00a0 Activation",
            "domain": false,
            "ticks": false,
            "labels": false,
            "grid": false,
            "titleAnchor": "end",
            "titleFont": "DejaVu Sans",
            "titleFontSize": 19,
            "titleFontWeight": "normal",
            "titleColor": "#000",
            "titleBaseline": "alphabetic",
            "titleY": 4
          }
        },
        "y": {
          "field": "i",
          "type": "quantitative",
          "scale": {"domain": [-1.737, 0.265], "nice": false, "zero": false},
          "axis": {
            "orient": "right",
            "title": "BBP Channelpedia ID 41478 rep 1",
            "domain": false,
            "ticks": false,
            "labels": false,
            "grid": false,
            "titleAngle": 270,
            "titleFont": "DejaVu Sans",
            "titleFontSize": 13,
            "titleFontWeight": "normal",
            "titleColor": "#000",
            "titleAlign": "center",
            "titleBaseline": "middle",
            "titleX": 12
          }
        }
      }
    }
  ],
  "resolve": {"axis": {"x": "independent", "y": "independent"}},
  "config": {"view": {"stroke": null}}
}
